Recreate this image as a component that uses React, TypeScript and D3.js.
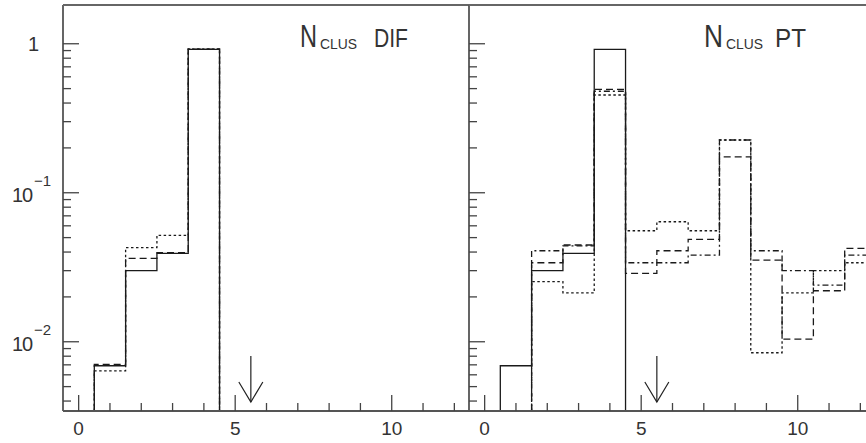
import React from "react";
import * as d3 from "d3";

// bins centred on integers 1..12 (width 1)
const binCenters = [1, 2, 3, 4, 5, 6, 7, 8, 9, 10, 11, 12];

// Left panel: N_CLUS DIF
const leftSolid = [0.0069, 0.03, 0.0392, 0.917, 0, 0, 0, 0, 0, 0, 0, 0];
const leftDashed = [0.00705, 0.0363, 0.0396, 0.92, 0, 0, 0, 0, 0, 0, 0, 0];
const leftDotted = [0.00638, 0.0428, 0.0518, 0.925, 0, 0, 0, 0, 0, 0, 0, 0];

// Right panel: N_CLUS PT
const rightSolid = [0.0069, 0.03, 0.0392, 0.917, 0, 0, 0, 0, 0, 0, 0, 0];
const rightDotted = [0, 0.0253, 0.0213, 0.453, 0.0556, 0.0639, 0.0556, 0.226, 0.00844, 0.0213, 0.03, 0.0339];
const rightDashed = [0, 0.0339, 0.0446, 0.494, 0.0288, 0.0408, 0.0487, 0.174, 0.0353, 0.0104, 0.022, 0.0424];
const rightDashDot = [0, 0.0408, 0.044, 0.48, 0.0339, 0.0339, 0.0382, 0.226, 0.0408, 0.03, 0.024, 0.0382];

const xTicks = [0, 1, 2, 3, 4, 5, 6, 7, 8, 9, 10, 11, 12];
const xMajor = [0, 5, 10];
const yMajor = [1, 0.1, 0.01];
const yMajorLabels = [
  { base: "1", exp: "" },
  { base: "10", exp: "\u22121" },
  { base: "10", exp: "\u22122" },
];
const cutValue = 5.5;

const titles = [
  { main: "N", sub: "CLUS", tail: "DIF" },
  { main: "N", sub: "CLUS", tail: "PT" },
];

const W = 866;
const H = 443;
const panelW = 407;
const top = 5;
const bottom = 411;
const panelX = [63, 469];

const y = d3.scaleLog().domain([0.00343, 1.82]).range([bottom, top]);

const yMinor: number[] = [];
[0.001, 0.01, 0.1, 1].forEach((dec) => {
  for (let k = 2; k <= 9; k++) {
    const v = dec * k;
    if (v > 0.00343 && v < 1.82) yMinor.push(v);
  }
});

const FONT = "'Liberation Sans', Arial, sans-serif";
const INK = "#333";

function histPath(x: d3.ScaleLinear<number, number>, vals: number[], endX: number) {
  const yy = (v: number) => (v > 0 ? Math.min(y(v), bottom) : bottom);
  const pts: [number, number][] = [];
  const first = vals.findIndex((v) => v > 0);
  const startIdx = Math.max(first, 0);
  const start = binCenters[startIdx] - 0.5;
  pts.push([x(start), bottom]);
  for (let i = startIdx; i < vals.length; i++) {
    const c = binCenters[i];
    if (c - 0.5 > endX) break;
    pts.push([x(c - 0.5), yy(vals[i])]);
    pts.push([x(Math.min(c + 0.5, endX)), yy(vals[i])]);
  }
  pts.push([pts[pts.length - 1][0], bottom]);
  return d3.line()(pts) || "";
}

function lastNonZero(vals: number[]) {
  let idx = 0;
  vals.forEach((v, i) => {
    if (v > 0) idx = i;
  });
  return binCenters[idx] + 0.5;
}

type Series = { vals: number[]; dash: string | undefined };

function Panel({ idx, series }: { idx: number; series: Series[] }) {
  const x0 = panelX[idx];
  const x = d3.scaleLinear().domain([-0.5, 12.5]).range([x0, x0 + panelW]);
  const t = titles[idx];
  const tx = idx === 0 ? [300, 320, 374] : [704, 726, 775];
  const tw = idx === 0 ? [17, 37, 34] : [19, 37, 31];
  const ax = x(cutValue);
  return (
    <g>
      <clipPath id={`clip${idx}`}>
        <rect x={x0} y={top} width={panelW} height={bottom - top + 1} />
      </clipPath>
      <g clipPath={`url(#clip${idx})`}>
        {series.map((s, i) => (
          <path
            key={i}
            d={histPath(x, s.vals, lastNonZero(s.vals))}
            fill="none"
            stroke="#1a1a1a"
            strokeWidth={1.3}
            strokeDasharray={s.dash}
          />
        ))}
      </g>
      {/* axes */}
      <line x1={x0} x2={x0} y1={top} y2={bottom} stroke="#555" strokeWidth={1.8} />
      <line x1={x0} x2={x0 + panelW} y1={bottom} y2={bottom} stroke="#555" strokeWidth={1.8} />
      <line x1={x0} x2={x0 + panelW} y1={top} y2={top} stroke="#666" strokeWidth={1.8} />
      {/* y ticks */}
      {yMajor.map((v) => (
        <line key={`ym${v}`} x1={x0} x2={x0 + 16} y1={y(v)} y2={y(v)} stroke="#444" strokeWidth={1.3} />
      ))}
      {yMinor.map((v) => (
        <line key={`yn${v}`} x1={x0} x2={x0 + 8} y1={y(v)} y2={y(v)} stroke="#444" strokeWidth={1.3} />
      ))}
      {/* x ticks */}
      {xTicks.map((v) => (
        <line
          key={`xt${v}`}
          x1={x(v)}
          x2={x(v)}
          y1={bottom}
          y2={bottom - (xMajor.includes(v) ? 16 : 8)}
          stroke="#444"
          strokeWidth={1.3}
        />
      ))}
      {xMajor.map((v) => (
        <text
          key={`xl${v}`}
          x={x(v)}
          y={435}
          textAnchor="middle"
          fontFamily={FONT}
          fontSize={19}
          fill={INK}
        >
          {v}
        </text>
      ))}
      {/* title */}
      <text x={tx[0]} y={47} fontFamily={FONT} fontSize={32} fill={INK} textLength={tw[0]} lengthAdjust="spacingAndGlyphs">
        {t.main}
      </text>
      <text x={tx[1]} y={49} fontFamily={FONT} fontSize={14} fill={INK} textLength={tw[1]} lengthAdjust="spacingAndGlyphs">
        {t.sub}
      </text>
      <text x={tx[2]} y={47} fontFamily={FONT} fontSize={25} fill={INK} textLength={tw[2]} lengthAdjust="spacingAndGlyphs">
        {t.tail}
      </text>
      {/* cut arrow */}
      <line x1={ax} x2={ax} y1={356} y2={402} stroke="#222" strokeWidth={1.2} />
      <polyline
        points={`${ax - 12},382 ${ax},402 ${ax + 12},382`}
        fill="none"
        stroke="#222"
        strokeWidth={1.2}
      />
    </g>
  );
}

export default function App() {
  const leftSeries: Series[] = [
    { vals: leftDotted, dash: "2.5,2.5" },
    { vals: leftDashed, dash: "7,4" },
    { vals: leftSolid, dash: undefined },
  ];
  const rightSeries: Series[] = [
    { vals: rightDotted, dash: "2.5,2.5" },
    { vals: rightDashed, dash: "7,4" },
    { vals: rightDashDot, dash: "6,3,2,3" },
    { vals: rightSolid, dash: undefined },
  ];
  return (
    <svg
      width={W}
      height={H}
      style={{ position: "absolute", left: 0, top: 0, background: "#fff" }}
    >
      <rect x={0} y={0} width={W} height={H} fill="#fff" />
      <Panel idx={0} series={leftSeries} />
      <Panel idx={1} series={rightSeries} />
      {/* y labels */}
      {yMajor.map((v, i) => {
        const ty = y(v);
        const lab = yMajorLabels[i];
        if (!lab.exp) {
          return (
            <text key={`yl${v}`} x={39} y={ty + 7} textAnchor="end" fontFamily={FONT} fontSize={20} fill={INK}>
              {lab.base}
            </text>
          );
        }
        return (
          <g key={`yl${v}`}>
            <text x={12} y={ty + 9} fontFamily={FONT} fontSize={20} fill={INK} textLength={21} lengthAdjust="spacing">
              {lab.base}
            </text>
            <text x={34} y={ty - 7} fontFamily={FONT} fontSize={15} fill={INK}>
              {lab.exp}
            </text>
          </g>
        );
      })}
    </svg>
  );
}
